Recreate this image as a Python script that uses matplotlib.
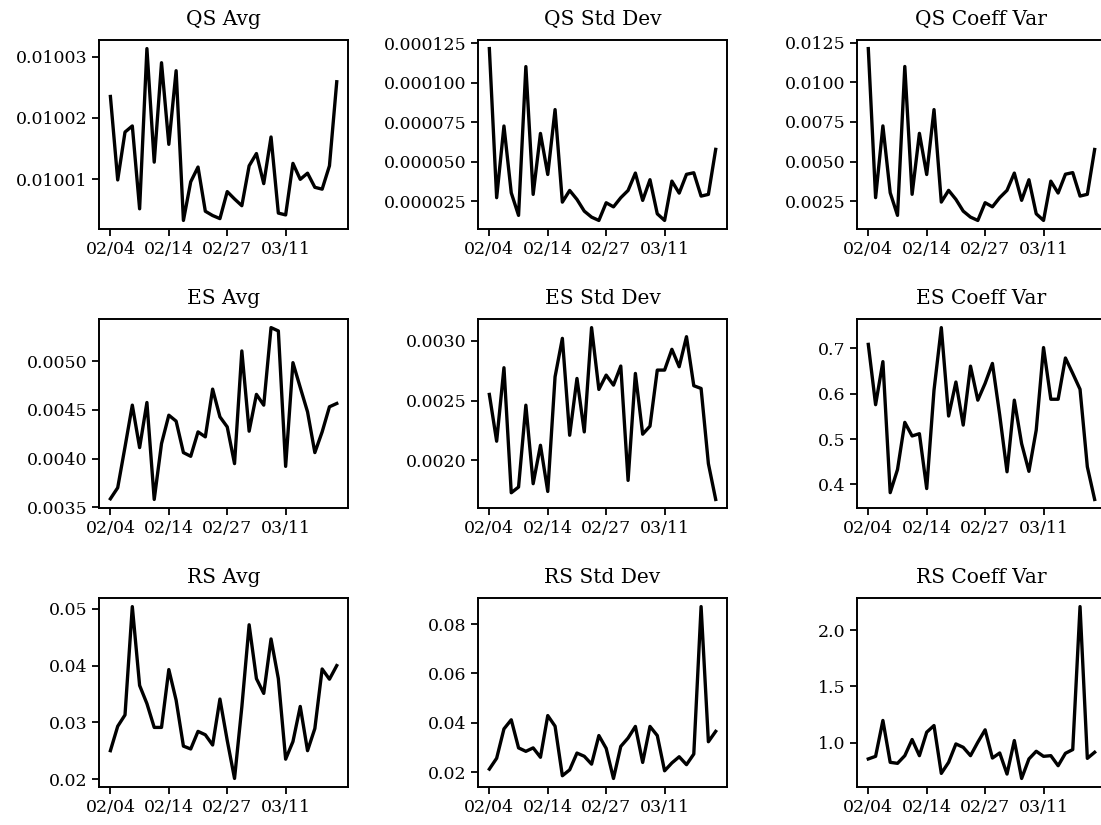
import numpy as np
import matplotlib
matplotlib.use('Agg')
import matplotlib.pyplot as plt

plt.rcParams['font.family'] = 'DejaVu Serif'

# 32 trading days, 2019-02-04 .. 2019-03-19
tick_pos = [0, 8, 16, 24]
tick_labels = ['02/04', '02/14', '02/27', '03/11']

qs_avg = [0.0100235, 0.0100099, 0.0100177, 0.0100187, 0.0100052, 0.0100313, 0.0100128, 0.0100290,
          0.0100157, 0.0100277, 0.0100033, 0.0100096, 0.0100120, 0.0100048, 0.0100041, 0.0100036,
          0.0100080, 0.0100068, 0.0100057, 0.0100122, 0.0100142, 0.0100093, 0.0100169, 0.0100045,
          0.0100042, 0.0100126, 0.0100100, 0.0100110, 0.0100087, 0.0100084, 0.0100122, 0.0100259]
qs_std = [121.6e-6, 27.2e-6, 72.6e-6, 30.3e-6, 16.0e-6, 110.2e-6, 29.3e-6, 67.9e-6,
          41.9e-6, 83.0e-6, 24.4e-6, 31.8e-6, 26.1e-6, 18.7e-6, 14.9e-6, 12.8e-6,
          24.0e-6, 21.4e-6, 27.2e-6, 31.8e-6, 42.8e-6, 25.5e-6, 38.6e-6, 17.0e-6,
          12.8e-6, 37.7e-6, 30.1e-6, 42.0e-6, 43.0e-6, 28.2e-6, 29.3e-6, 57.8e-6]
qs_cv = [0.01213, 0.00272, 0.00725, 0.00303, 0.00160, 0.01100, 0.00293, 0.00678,
         0.00418, 0.00828, 0.00244, 0.00318, 0.00261, 0.00187, 0.00149, 0.00128,
         0.00240, 0.00214, 0.00272, 0.00318, 0.00427, 0.00255, 0.00385, 0.00170,
         0.00128, 0.00376, 0.00301, 0.00420, 0.00430, 0.00282, 0.00293, 0.00576]

es_avg = [0.003589, 0.003702, 0.004120, 0.004548, 0.004113, 0.004575, 0.003582, 0.004154,
          0.004445, 0.004384, 0.004062, 0.004024, 0.004274, 0.004223, 0.004712, 0.004428,
          0.004325, 0.003949, 0.005103, 0.004281, 0.004658, 0.004548, 0.005342, 0.005308,
          0.003921, 0.004983, 0.004729, 0.004479, 0.004062, 0.004274, 0.004531, 0.004565]
es_std = [0.002552, 0.002160, 0.002776, 0.001728, 0.001776, 0.002462, 0.001804, 0.002126,
          0.001739, 0.002700, 0.003022, 0.002210, 0.002686, 0.002238, 0.003112, 0.002594,
          0.002714, 0.002630, 0.002790, 0.001832, 0.002728, 0.002219, 0.002286, 0.002756,
          0.002756, 0.002930, 0.002784, 0.003036, 0.002625, 0.002602, 0.001972, 0.001672]
es_cv = [0.709, 0.576, 0.671, 0.382, 0.433, 0.537, 0.507, 0.512,
         0.391, 0.608, 0.746, 0.551, 0.626, 0.531, 0.661, 0.586,
         0.623, 0.667, 0.553, 0.428, 0.586, 0.490, 0.429, 0.520,
         0.702, 0.588, 0.588, 0.679, 0.645, 0.610, 0.439, 0.367]

rs_avg = [0.0250, 0.0293, 0.0313, 0.0504, 0.0365, 0.0333, 0.0291, 0.0291,
          0.0393, 0.0339, 0.0258, 0.0253, 0.0284, 0.0278, 0.0260, 0.0341,
          0.0268, 0.0201, 0.0327, 0.0472, 0.0377, 0.0351, 0.0447, 0.0377,
          0.0235, 0.0266, 0.0328, 0.0250, 0.0289, 0.0394, 0.0376, 0.0400]
rs_std = [0.0212, 0.0256, 0.0375, 0.0412, 0.0298, 0.0284, 0.0298, 0.0260,
          0.0429, 0.0386, 0.0185, 0.0209, 0.0277, 0.0264, 0.0232, 0.0348,
          0.0296, 0.0174, 0.0304, 0.0338, 0.0385, 0.0239, 0.0385, 0.0348,
          0.0205, 0.0237, 0.0262, 0.0230, 0.0273, 0.0871, 0.0323, 0.0365]
rs_cv = [0.858, 0.881, 1.199, 0.828, 0.819, 0.887, 1.030, 0.887,
         1.095, 1.154, 0.730, 0.828, 0.991, 0.961, 0.887, 1.006,
         1.116, 0.866, 0.911, 0.724, 1.021, 0.685, 0.858, 0.926,
         0.881, 0.887, 0.798, 0.908, 0.941, 2.208, 0.863, 0.917]

series = [
    ('QS Avg', qs_avg), ('QS Std Dev', qs_std), ('QS Coeff Var', qs_cv),
    ('ES Avg', es_avg), ('ES Std Dev', es_std), ('ES Coeff Var', es_cv),
    ('RS Avg', rs_avg), ('RS Std Dev', rs_std), ('RS Coeff Var', rs_cv),
]

fig, axes = plt.subplots(3, 3, figsize=(11.01, 8.25), dpi=100)
fig.subplots_adjust(left=0.090, right=1.0045, bottom=0.046, top=0.9515,
                    wspace=0.522, hspace=0.476)

for ax, (title, vals) in zip(axes.flat, series):
    x = np.arange(len(vals))
    ax.plot(x, vals, color='black', lw=2.4)
    ax.set_title(title, fontsize=14.5, pad=11)
    ax.set_xticks(tick_pos)
    ax.set_xticklabels(tick_labels)
    ax.ticklabel_format(axis='y', useOffset=False, style='plain')
    ax.tick_params(labelsize=12.5, width=1.3, length=5)
    for s in ax.spines.values():
        s.set_linewidth(1.4)

fig.savefig('out.png', dpi=100)
